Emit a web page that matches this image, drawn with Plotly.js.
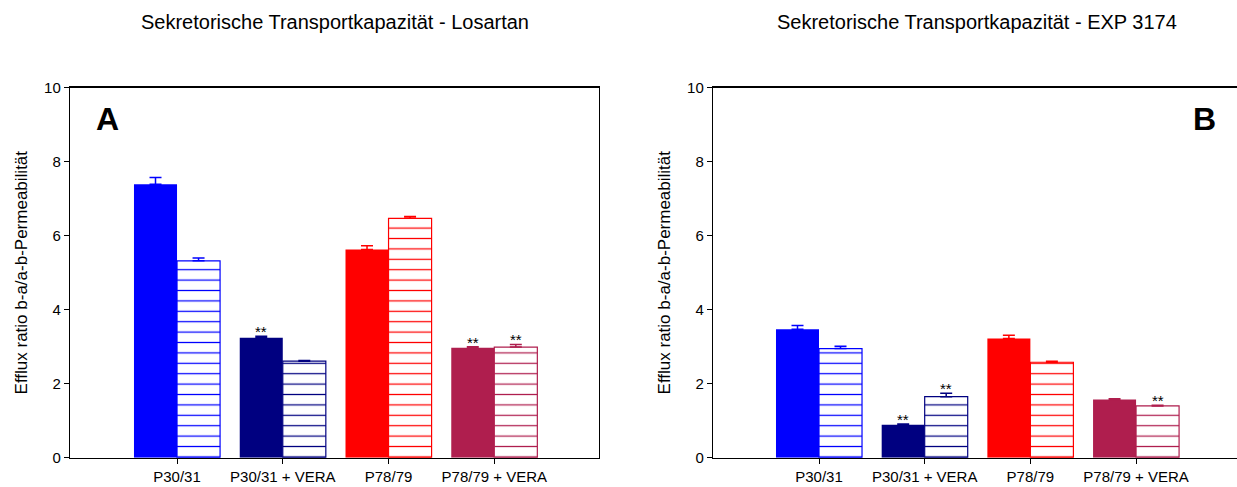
<!DOCTYPE html>
<html>
<head>
<meta charset="utf-8">
<script src="https://cdn.plot.ly/plotly-3.0.1.min.js"></script>
<style>
  html, body { margin: 0; padding: 0; background: #fff; }
  #chart { width: 1237px; height: 487px; }
</style>
</head>
<body>
<div id="chart"></div>
<script>
// Groups on the x axis
const categories = ['P30/31', 'P30/31 + VERA', 'P78/79', 'P78/79 + VERA'];
const groupColors = ['#0000FF', '#000080', '#FF0000', '#AF1E4E'];

// Panel A: Losartan — efflux ratio (mean) and error (upper SD)
const losartanSolid = [7.39, 3.24, 5.63, 2.97];
const losartanSolidErr = [0.18, 0.04, 0.10, 0.03];
const losartanHatched = [5.32, 2.61, 6.47, 2.99];
const losartanHatchedErr = [0.08, 0.02, 0.05, 0.07];
const losartanSolidSig = ['', '**', '', '**'];
const losartanHatchedSig = ['', '', '', '**'];

// Panel B: EXP 3174
const expSolid = [3.47, 0.89, 3.22, 1.57];
const expSolidErr = [0.10, 0.02, 0.09, 0.02];
const expHatched = [2.95, 1.65, 2.58, 1.40];
const expHatchedErr = [0.06, 0.09, 0.03, 0.02];
const expSolidSig = ['', '**', '', ''];
const expHatchedSig = ['', '**', '', '**'];

const titleA = 'Sekretorische Transportkapazität - Losartan';
const titleB = 'Sekretorische Transportkapazität - EXP 3174';
const yTitle = 'Efflux ratio b-a/a-b-Permeabilität';

const FONT = 'Liberation Sans, Arial, sans-serif';
const W = 1237, H = 487;
const BAR_W = 0.407;

const traces = [];
const annotations = [];

function addPanel(xa, ya, solid, solidErr, hatched, hatchedErr, solidSig, hatchedSig) {
  categories.forEach((cat, i) => {
    const c = groupColors[i];
    traces.push({
      type: 'bar', x: [cat], y: [solid[i]], xaxis: xa, yaxis: ya,
      width: BAR_W, offset: -BAR_W,
      marker: { color: c, line: { width: 0 } },
      error_y: { type: 'data', symmetric: false, array: [solidErr[i]], arrayminus: [0],
                 color: c, thickness: 1.5, width: 6 },
      showlegend: false, hoverinfo: 'skip'
    });
    traces.push({
      type: 'bar', x: [cat], y: [hatched[i]], xaxis: xa, yaxis: ya,
      width: BAR_W, offset: 0,
      marker: {
        color: c,
        pattern: { shape: '-', fillmode: 'replace', bgcolor: '#ffffff', size: 10.4, solidity: 0.12 },
        line: { color: c, width: 1.2 }
      },
      error_y: { type: 'data', symmetric: false, array: [hatchedErr[i]], arrayminus: [0],
                 color: c, thickness: 1.5, width: 6 },
      showlegend: false, hoverinfo: 'skip'
    });
    const axRef = xa === 'x' ? 'x' : 'x2';
    const ayRef = ya === 'y' ? 'y' : 'y2';
    if (solidSig[i]) {
      annotations.push({ x: i - BAR_W / 2, y: solid[i] + solidErr[i], xref: axRef, yref: ayRef,
        text: solidSig[i], showarrow: false, yanchor: 'bottom', yshift: -6,
        font: { family: FONT, size: 15, color: '#000' } });
    }
    if (hatchedSig[i]) {
      annotations.push({ x: i + BAR_W / 2, y: hatched[i] + hatchedErr[i], xref: axRef, yref: ayRef,
        text: hatchedSig[i], showarrow: false, yanchor: 'bottom', yshift: -6,
        font: { family: FONT, size: 15, color: '#000' } });
    }
  });
}

addPanel('x', 'y', losartanSolid, losartanSolidErr, losartanHatched, losartanHatchedErr, losartanSolidSig, losartanHatchedSig);
addPanel('x2', 'y2', expSolid, expSolidErr, expHatched, expHatchedErr, expSolidSig, expHatchedSig);

const yDomain = [(H - 457.7) / H, (H - 87.7) / H];

const xBase = {
  type: 'category', categoryorder: 'array', categoryarray: categories,
  showline: true, linecolor: '#000', linewidth: 1.5, mirror: true,
  ticks: 'outside', ticklen: 5, tickcolor: '#000', tickwidth: 1,
  showgrid: false, zeroline: false, anchor: 'y',
  tickfont: { family: FONT, size: 15, color: '#000' }
};
const yBase = {
  range: [0, 10], dtick: 2, tick0: 0, domain: yDomain,
  showline: true, linecolor: '#000', linewidth: 1.2,
  ticks: 'outside', ticklen: 5, tickcolor: '#000', tickwidth: 1,
  showgrid: false, zeroline: false,
  tickfont: { family: FONT, size: 15, color: '#000' },
  title: { text: yTitle, font: { family: FONT, size: 17, color: '#000' }, standoff: 12 }
};

annotations.push(
  { text: titleA, xref: 'paper', yref: 'paper', x: 335 / W, y: 1 - 22 / H, showarrow: false,
    xanchor: 'center', yanchor: 'middle', font: { family: FONT, size: 20, color: '#000' } },
  { text: titleB, xref: 'paper', yref: 'paper', x: 977 / W, y: 1 - 22 / H, showarrow: false,
    xanchor: 'center', yanchor: 'middle', font: { family: FONT, size: 20, color: '#000' } },
  { text: '<b>A</b>', xref: 'paper', yref: 'paper', x: 107 / W, y: 1 - 119 / H, showarrow: false,
    xanchor: 'center', yanchor: 'middle', font: { family: FONT, size: 32, color: '#000' } },
  { text: '<b>B</b>', xref: 'paper', yref: 'paper', x: 1204 / W, y: 1 - 119 / H, showarrow: false,
    xanchor: 'center', yanchor: 'middle', font: { family: FONT, size: 32, color: '#000' } }
);

const layout = {
  width: W, height: H,
  margin: { l: 0, r: 0, t: 0, b: 0 },
  paper_bgcolor: '#fff', plot_bgcolor: '#fff',
  barmode: 'overlay',
  showlegend: false,
  xaxis: Object.assign({}, xBase, { domain: [70 / W, 599 / W], range: [-1.012, 3.99], anchor: 'y' }),
  yaxis: Object.assign({}, yBase, { anchor: 'x', mirror: true }),
  xaxis2: Object.assign({}, xBase, { domain: [713 / W, 1], range: [-1.003, 3.955], anchor: 'y2' }),
  yaxis2: Object.assign({}, yBase, { anchor: 'x2', mirror: false }),
  annotations: annotations
};

Plotly.newPlot('chart', traces, layout, { staticPlot: true, displayModeBar: false });
</script>
</body>
</html>
